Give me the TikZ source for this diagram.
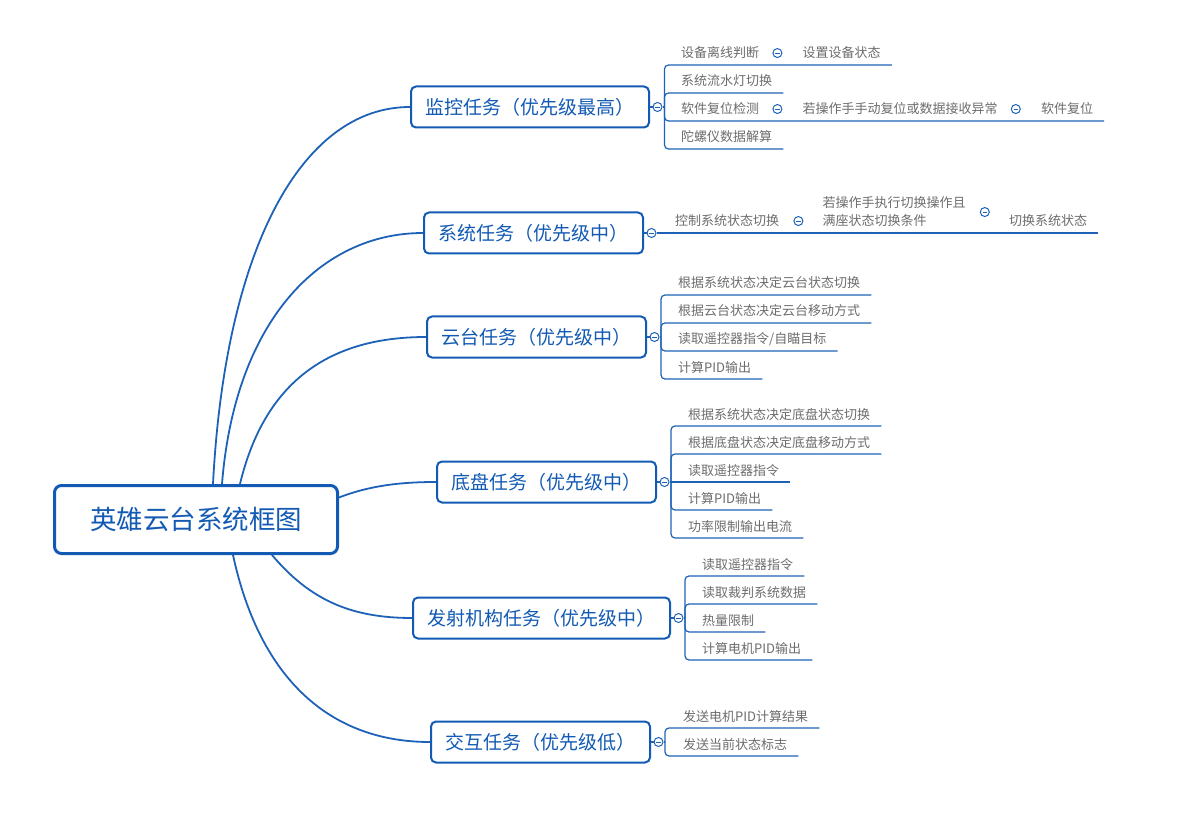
\documentclass[tikz,border=0pt]{standalone}
\usepackage{fontspec}
\setmainfont{Noto Sans CJK SC}
\usetikzlibrary{positioning}

\definecolor{mapblue}{RGB}{18,90,180}
\definecolor{linkblue}{RGB}{30,98,184}
\definecolor{leafgray}{RGB}{108,108,108}

\tikzset{
  rootbox/.style={draw=mapblue,line width=3pt,rounded corners=7pt,fill=white,text=mapblue,
    font=\fontsize{26.5}{30}\selectfont,minimum width=283pt,minimum height=68pt},
  taskbox/.style={draw=mapblue,line width=2pt,rounded corners=5pt,fill=white,text=mapblue,
    font=\fontsize{19}{22}\selectfont,inner xsep=14.5pt,minimum height=41pt,anchor=west},
  branch/.style={draw=linkblue,line width=1.8pt},
  link/.style={draw=linkblue,line width=1.2pt},
  leaf/.style={text=leafgray,font=\fontsize{13}{18}\selectfont,inner sep=0pt,anchor=base west},
  fold/.style={circle,draw=linkblue,line width=1pt,fill=white,minimum size=9pt,inner sep=0pt,
    path picture={\draw[linkblue,line width=0.9pt]
      ([xshift=-2.3pt]path picture bounding box.center) -- ([xshift=2.3pt]path picture bounding box.center);}}
}

\begin{document}
\begin{tikzpicture}[x=1pt,y=-1pt]
\useasboundingbox (0,0) rectangle (1203,813);

\node[rootbox] (root) at (196,519.5) {英雄云台系统框图};

\node[taskbox] (t1) at (410,107) {监控任务（优先级最高）};
\node[taskbox] (t2) at (423,233) {系统任务（优先级中）};
\node[taskbox] (t3) at (426,337) {云台任务（优先级中）};
\node[taskbox] (t4) at (436,482) {底盘任务（优先级中）};
\node[taskbox] (t5) at (412,618) {发射机构任务（优先级中）};
\node[taskbox] (t6) at (430,742) {交互任务（优先级低）};

\draw[branch] ([xshift=17pt]root.north) .. controls +(12,-234) and +(-109,0) .. (t1.west);
\draw[branch] ([xshift=26pt]root.north) .. controls +(13,-164) and +(-102,0) .. (t2.west);
\draw[branch] ([xshift=44pt]root.north) .. controls +(25,-104) and +(-95,0) .. (t3.west);
\draw[branch] ([yshift=22pt]root.east) .. controls +(31,-12) and +(-35,0) .. (t4.west);
\draw[branch] ([xshift=76pt]root.south) .. controls +(38,45) and +(-61,0) .. (t5.west);
\draw[branch] ([xshift=37pt]root.south) .. controls +(27,125) and +(-99,0) .. (t6.west);

% monitor task
\node[fold] (f1) at ([xshift=7.5pt]t1.east) {};
\coordinate (g1) at ([xshift=7pt]f1.center);
\draw[link] (t1.east) -- (f1) -- (g1);
\node[leaf] (a1) at (681,58) {设备离线判断};
\node[fold] (a1f) at ([xshift=18pt]a1.east) {};
\node[leaf] (a1s) at ([xshift=43pt]a1.base east) {设置设备状态};
\node[leaf] (a2) at (681,86) {系统流水灯切换};
\node[leaf] (a3) at (681,114) {软件复位检测};
\node[fold] (a3f) at ([xshift=18pt]a3.east) {};
\node[leaf] (a3s) at ([xshift=43pt]a3.base east) {若操作手手动复位或数据接收异常};
\node[fold] (a3g) at ([xshift=18pt]a3s.east) {};
\node[leaf] (a3t) at ([xshift=43pt]a3s.base east) {软件复位};
\node[leaf] (a4) at (681,142) {陀螺仪数据解算};
\foreach \n in {a1s,a2,a3t,a4}
  \draw[link,rounded corners=4pt] (g1) |- ([shift={(11pt,-7pt)}]\n.base east);

% system task
\node[fold] (f2) at ([xshift=7.5pt]t2.east) {};
\draw[link] (t2.east) -- (f2);
\node[leaf] (b1) at (675,226) {控制系统状态切换};
\node[fold] (b1f) at ([xshift=19pt]b1.east) {};
\node[leaf,align=left,anchor=west] (b2) at ([shift={(43pt,9pt)}]b1.east) {若操作手执行切换操作且\\满座状态切换条件};
\node[fold] (b2f) at ([xshift=19pt]b2.east) {};
\coordinate (b3w) at (b2f.center |- b1.base);
\node[leaf] (b3) at ([xshift=24pt]b3w) {切换系统状态};
\coordinate (b3e) at (f2 -| b3.east);
\draw[link] (f2) -- ([xshift=11pt]b3e);

% gimbal task
\node[fold] (f3) at ([xshift=7.5pt]t3.east) {};
\coordinate (g3) at ([xshift=6.5pt]f3.center);
\draw[link] (t3.east) -- (f3) -- (g3);
\foreach \txt [count=\i] in {根据系统状态决定云台状态切换,根据云台状态决定云台移动方式,读取遥控器指令/自瞄目标,计算PID输出}
  \node[leaf] (c\i) at (678,260+28*\i) {\txt};
\foreach \i in {1,...,4}
  \draw[link,rounded corners=4pt] (g3) |- ([shift={(11pt,-7pt)}]c\i.base east);

% chassis task
\node[fold] (f4) at ([xshift=7.5pt]t4.east) {};
\coordinate (g4) at ([xshift=6.5pt]f4.center);
\draw[link] (t4.east) -- (f4) -- (g4);
\foreach \txt [count=\i] in {根据系统状态决定底盘状态切换,根据底盘状态决定底盘移动方式,读取遥控器指令,计算PID输出,功率限制输出电流}
  \node[leaf] (d\i) at (688,391+28*\i) {\txt};
\foreach \i in {1,2,4,5}
  \draw[link,rounded corners=4pt] (g4) |- ([shift={(11pt,-7pt)}]d\i.base east);
\draw[link] (g4) -- ([shift={(11pt,-7pt)}]d3.base east);

% shooter task
\node[fold] (f5) at ([xshift=7.5pt]t5.east) {};
\coordinate (g5) at ([xshift=6.5pt]f5.center);
\draw[link] (t5.east) -- (f5) -- (g5);
\foreach \txt [count=\i] in {读取遥控器指令,读取裁判系统数据,热量限制,计算电机PID输出}
  \node[leaf] (e\i) at (702,541+28*\i) {\txt};
\foreach \i in {1,...,4}
  \draw[link,rounded corners=4pt] (g5) |- ([shift={(11pt,-7pt)}]e\i.base east);

% interaction task
\node[fold] (f6) at ([xshift=7.5pt]t6.east) {};
\coordinate (g6) at ([xshift=6.5pt]f6.center);
\draw[link] (t6.east) -- (f6) -- (g6);
\foreach \txt [count=\i] in {发送电机PID计算结果,发送当前状态标志}
  \node[leaf] (h\i) at (683,693+28*\i) {\txt};
\foreach \i in {1,2}
  \draw[link,rounded corners=4pt] (g6) |- ([shift={(11pt,-7pt)}]h\i.base east);
\end{tikzpicture}
\end{document}
